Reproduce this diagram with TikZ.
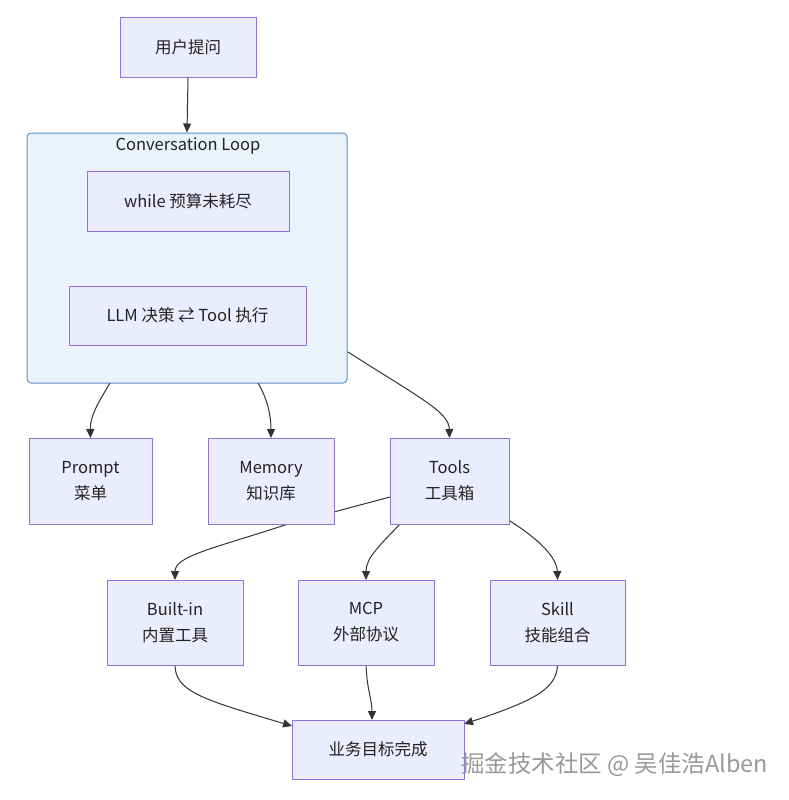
\documentclass[tikz,border=0pt]{standalone}
\usepackage{fontspec}
\setmainfont{Noto Sans CJK SC}
\usetikzlibrary{arrows.meta}
\definecolor{nodefill}{HTML}{ECECFF}
\definecolor{nodestroke}{HTML}{9370DB}
\definecolor{clusterfill}{HTML}{EAF3FC}
\definecolor{clusterstroke}{HTML}{5B8FC7}
\definecolor{edgecol}{HTML}{333333}
\definecolor{textcol}{HTML}{222222}
\tikzset{
  box/.style={draw=nodestroke, fill=nodefill, line width=1pt, inner sep=0pt,
    align=center, text=textcol, font=\fontsize{16.5}{26}\selectfont},
  edge/.style={draw=edgecol, line width=1pt, -{Triangle[length=9pt,width=8pt]}},
  plain/.style={draw=edgecol, line width=1pt},
}
\begin{document}
\begin{tikzpicture}[x=1pt,y=-1pt]
\useasboundingbox (0,0) rectangle (788,800);
% cluster
\node[draw=clusterstroke, fill=clusterfill, line width=1pt, rounded corners=4pt,
  minimum width=320pt, minimum height=250pt, inner sep=0pt] (loop) at (187,258) {};
\node[text=textcol, font=\fontsize{16.5}{20}\selectfont] (looptitle) at (188,146) {Conversation Loop};
\node[box, minimum width=202pt, minimum height=60pt] (while) at (188,201) {while 预算未耗尽};
\node[box, minimum width=237pt, minimum height=59pt] (llm) at (187.5,315.5) {LLM 决策 ⇄ Tool 执行};

\node[box, minimum width=136pt, minimum height=59pt] (user) at (188,47.5) {用户提问};

% edges (drawn before nodes so boxes cover them)
\coordinate (tl1) at (390,497);
\coordinate (tl2) at (285,525);
\draw[edge] (user.south) -- (loop.north);
\draw[edge] (110,383) .. controls (100,400) and (90,415) .. (90.5,438);
\draw[edge] (258,383) .. controls (267,398) and (271,415) .. (271,438);
\draw[edge] (348,352) .. controls (420,398) and (449,412) .. (449.5,438);
\draw[plain] (tl1) -- (tl2);
\draw[edge] (tl2) .. controls (215,548) and (175,556) .. (175,580);
\draw[edge] (400,524) .. controls (380,545) and (366,558) .. (366,580);
\draw[edge] (510,521) .. controls (540,540) and (557,558) .. (557.5,580);
\draw[edge] (175,665) .. controls (175,692) and (205,700) .. (292,726);
\draw[edge] (366,665) .. controls (367,690) and (372,700) .. (372,720);
\draw[edge] (557.5,665) .. controls (557,690) and (530,702) .. (464,724);

\node[box, minimum width=123pt, minimum height=86pt] (prompt) at (90.5,481) {Prompt\\菜单};
\node[box, minimum width=126pt, minimum height=86pt] (memory) at (271,481) {Memory\\知识库};
\node[box, minimum width=119pt, minimum height=86pt] (tools) at (449.5,481) {Tools\\工具箱};
\node[box, minimum width=136pt, minimum height=85pt] (builtin) at (175,622.5) {Built-in\\内置工具};
\node[box, minimum width=136pt, minimum height=85pt] (mcp) at (366,622.5) {MCP\\外部协议};
\node[box, minimum width=135pt, minimum height=85pt] (skill) at (557.5,622.5) {Skill\\技能组合};
\node[box, minimum width=172pt, minimum height=59pt] (goal) at (378,749.5) {业务目标完成};

\node[anchor=west, inner sep=0pt, text=black!40, font=\fontsize{23.5}{26}\selectfont] (wm) at (461,765) {掘金技术社区 @ 吴佳浩Alben};
\end{tikzpicture}
\end{document}
